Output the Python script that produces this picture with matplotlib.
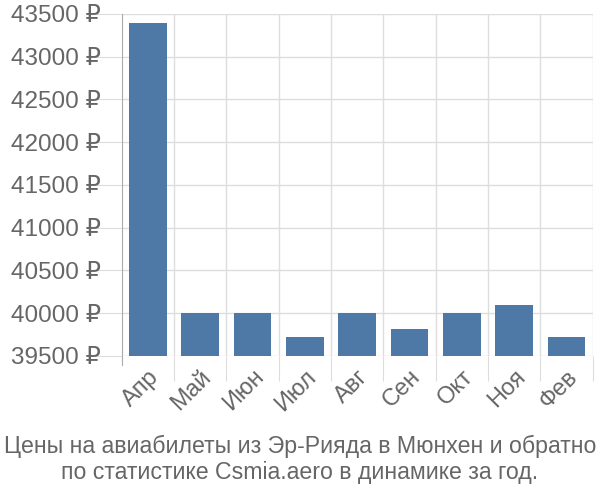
import matplotlib
matplotlib.use("Agg")
import matplotlib.pyplot as plt
from matplotlib.ticker import FixedLocator, NullFormatter

# ---------------------------------------------------------------------------
# Data
# ---------------------------------------------------------------------------
months = ["Апр", "Май", "Июн", "Июл", "Авг", "Сен", "Окт", "Ноя", "Фев"]
prices = [43390, 40000, 40000, 39717, 40000, 39812, 40000, 40096, 39717]
y_ticks = [39500, 40000, 40500, 41000, 41500, 42000, 42500, 43000, 43500]
caption = ("Цены на авиабилеты из Эр-Рияда в Мюнхен и обратно\n"
           "по статистике Csmia.aero в динамике за год.")

BAR_COLOR = "#4E79A7"
GRID = "#DDDDDD"
TEXT = "#666666"
FONT = ["Liberation Sans", "DejaVu Sans"]

plt.rcParams["font.family"] = FONT

fig = plt.figure(figsize=(6, 5), dpi=100)
ax = fig.add_axes([0.203, 0.288, 0.785, 0.684])

x = list(range(len(months)))
ax.bar(x, prices, width=0.72, color=BAR_COLOR, zorder=3)

ax.set_xlim(-0.5, len(months) - 0.5)
ax.set_ylim(y_ticks[0], y_ticks[-1])

# y axis: grid + labels
ax.set_yticks(y_ticks)
ax.set_yticklabels([f"{v} ₽" for v in y_ticks], fontsize=17.5, color=TEXT)
ax.grid(axis="y", color=GRID, lw=1, zorder=0)
ax.tick_params(axis="y", length=20, color=GRID, pad=-5)

# x axis: boundary gridlines as major ticks, labels on minor ticks
bounds = [i + 0.5 for i in x]
ax.xaxis.set_major_locator(FixedLocator(bounds))
ax.xaxis.set_major_formatter(NullFormatter())
ax.grid(axis="x", which="major", color=GRID, lw=1, zorder=0)
ax.tick_params(axis="x", which="major", length=18, color=GRID)
ax.xaxis.set_minor_locator(FixedLocator(x))
ax.set_xticklabels(months, minor=True, fontsize=17, color=TEXT,
                   rotation=45, ha="right", rotation_mode="anchor")
ax.tick_params(axis="x", which="minor", length=0, pad=7)

for side in ["top", "right", "bottom"]:
    ax.spines[side].set_visible(False)
ax.spines["left"].set_color("#AAAAAA")
ax.spines["left"].set_bounds(y_ticks[0] - 110, y_ticks[-1])
ax.spines["left"].set_zorder(4)

fig.text(0.5, 0.081, caption, ha="center", va="center", fontsize=16.7,
         color=TEXT, linespacing=1.15)

fig.savefig("out.png", dpi=100, facecolor="white")
